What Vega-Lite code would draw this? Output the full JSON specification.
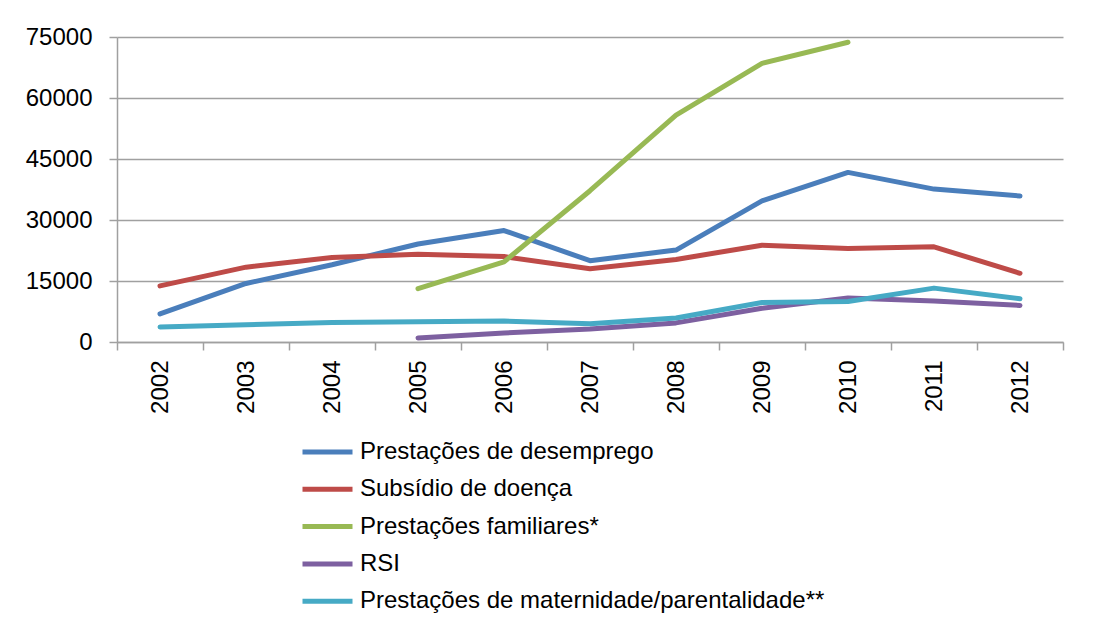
{
  "$schema": "https://vega.github.io/schema/vega-lite/v6.json",
  "autosize": {"type": "none"},
  "width": 946,
  "height": 305,
  "padding": {"left": 117, "top": 37, "right": 40, "bottom": 284},
  "background": "white",
  "config": {
    "view": {"stroke": null},
    "font": "Liberation Sans",
    "axis": {"labelFont": "Liberation Sans", "labelFontSize": 24, "labelColor": "#000000", "domainColor": "#a0a0a0", "domainWidth": 1.5, "tickColor": "#a0a0a0", "tickWidth": 1.5, "tickSize": 8, "gridColor": "#a0a0a0", "gridWidth": 1.5, "title": null}
  },
  "data": {"values": [
    {"ano": "2002", "serie": "Prestações de desemprego", "valor": 6900},
    {"ano": "2003", "serie": "Prestações de desemprego", "valor": 14400},
    {"ano": "2004", "serie": "Prestações de desemprego", "valor": 19000},
    {"ano": "2005", "serie": "Prestações de desemprego", "valor": 24100},
    {"ano": "2006", "serie": "Prestações de desemprego", "valor": 27400},
    {"ano": "2007", "serie": "Prestações de desemprego", "valor": 20000},
    {"ano": "2008", "serie": "Prestações de desemprego", "valor": 22600},
    {"ano": "2009", "serie": "Prestações de desemprego", "valor": 34700},
    {"ano": "2010", "serie": "Prestações de desemprego", "valor": 41700},
    {"ano": "2011", "serie": "Prestações de desemprego", "valor": 37600},
    {"ano": "2012", "serie": "Prestações de desemprego", "valor": 35900},
    {"ano": "2002", "serie": "Subsídio de doença", "valor": 13800},
    {"ano": "2003", "serie": "Subsídio de doença", "valor": 18400},
    {"ano": "2004", "serie": "Subsídio de doença", "valor": 20800},
    {"ano": "2005", "serie": "Subsídio de doença", "valor": 21600},
    {"ano": "2006", "serie": "Subsídio de doença", "valor": 21000},
    {"ano": "2007", "serie": "Subsídio de doença", "valor": 18000},
    {"ano": "2008", "serie": "Subsídio de doença", "valor": 20300},
    {"ano": "2009", "serie": "Subsídio de doença", "valor": 23800},
    {"ano": "2010", "serie": "Subsídio de doença", "valor": 23000},
    {"ano": "2011", "serie": "Subsídio de doença", "valor": 23400},
    {"ano": "2012", "serie": "Subsídio de doença", "valor": 16900},
    {"ano": "2005", "serie": "Prestações familiares*", "valor": 13100},
    {"ano": "2006", "serie": "Prestações familiares*", "valor": 19700},
    {"ano": "2007", "serie": "Prestações familiares*", "valor": 37200},
    {"ano": "2008", "serie": "Prestações familiares*", "valor": 55800},
    {"ano": "2009", "serie": "Prestações familiares*", "valor": 68500},
    {"ano": "2010", "serie": "Prestações familiares*", "valor": 73700},
    {"ano": "2005", "serie": "RSI", "valor": 1000},
    {"ano": "2006", "serie": "RSI", "valor": 2200},
    {"ano": "2007", "serie": "RSI", "valor": 3200},
    {"ano": "2008", "serie": "RSI", "valor": 4700},
    {"ano": "2009", "serie": "RSI", "valor": 8300},
    {"ano": "2010", "serie": "RSI", "valor": 10800},
    {"ano": "2011", "serie": "RSI", "valor": 10100},
    {"ano": "2012", "serie": "RSI", "valor": 9000},
    {"ano": "2002", "serie": "Prestações de maternidade/parentalidade**", "valor": 3700},
    {"ano": "2003", "serie": "Prestações de maternidade/parentalidade**", "valor": 4250},
    {"ano": "2004", "serie": "Prestações de maternidade/parentalidade**", "valor": 4800},
    {"ano": "2005", "serie": "Prestações de maternidade/parentalidade**", "valor": 5000},
    {"ano": "2006", "serie": "Prestações de maternidade/parentalidade**", "valor": 5150},
    {"ano": "2007", "serie": "Prestações de maternidade/parentalidade**", "valor": 4500},
    {"ano": "2008", "serie": "Prestações de maternidade/parentalidade**", "valor": 5900},
    {"ano": "2009", "serie": "Prestações de maternidade/parentalidade**", "valor": 9700},
    {"ano": "2010", "serie": "Prestações de maternidade/parentalidade**", "valor": 9950},
    {"ano": "2011", "serie": "Prestações de maternidade/parentalidade**", "valor": 13250},
    {"ano": "2012", "serie": "Prestações de maternidade/parentalidade**", "valor": 10650}
  ]},
  "mark": {"type": "line", "strokeWidth": 5, "strokeCap": "round", "strokeJoin": "round"},
  "encoding": {
    "x": {
      "field": "ano", "type": "ordinal",
      "scale": {"type": "band", "paddingInner": 0, "paddingOuter": 0},
      "axis": {"labelAngle": -90, "labelPadding": 10, "tickBand": "extent", "grid": false, "labelBaseline": "middle"}
    },
    "y": {
      "field": "valor", "type": "quantitative",
      "scale": {"domain": [0, 75000], "nice": false},
      "axis": {"values": [0, 15000, 30000, 45000, 60000, 75000], "format": "d", "labelPadding": 17, "grid": true}
    },
    "color": {
      "field": "serie", "type": "nominal",
      "scale": {
        "domain": ["Prestações de desemprego", "Subsídio de doença", "Prestações familiares*", "RSI", "Prestações de maternidade/parentalidade**"],
        "range": ["#4a7ebb", "#be4b48", "#98b954", "#7d60a0", "#46aac5"]
      },
      "legend": {
        "orient": "none", "legendX": 183, "legendY": 400,
        "title": null, "padding": 0,
        "symbolType": "stroke", "symbolSize": 2500, "symbolStrokeWidth": 5,
        "labelFontSize": 24, "labelColor": "#000000", "labelFont": "Liberation Sans",
        "labelOffset": 5, "clipHeight": 30, "rowPadding": 7.3, "labelLimit": 700
      }
    }
  }
}
